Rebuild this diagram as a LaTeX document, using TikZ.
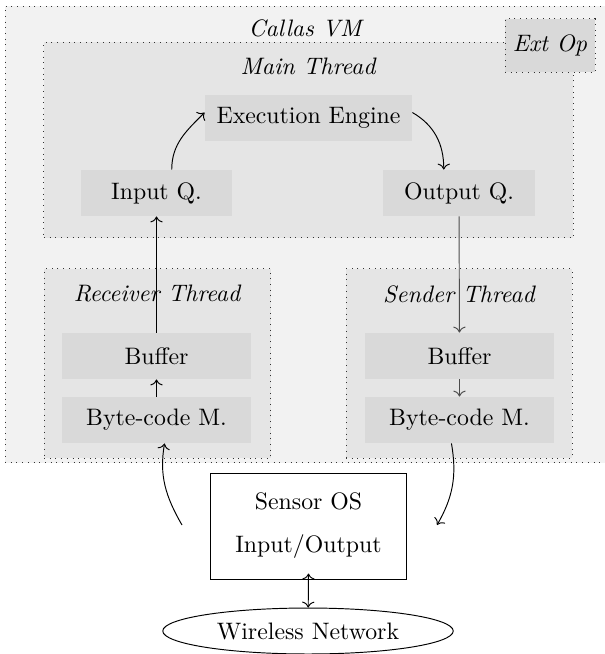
\documentclass[tikz,border=0pt]{standalone}
\usetikzlibrary{positioning,arrows.meta,shapes.geometric}
\definecolor{vmbg}{gray}{0.95}
\definecolor{thbg}{gray}{0.90}
\definecolor{unitbg}{gray}{0.85}

\begin{document}
\begin{tikzpicture}[x=0.42pt, y=-0.42pt,
   area/.style={draw=black!80, dotted, fill=thbg, inner sep=0pt},
   unit/.style={fill=unitbg, inner sep=2pt, minimum height=19.3pt},
   ttl/.style={font=\itshape},
   flow/.style={-{To}}]
  \useasboundingbox (0,0) rectangle (604,654);

  % containers
  \node[area, fill=vmbg, minimum width=252.4pt, minimum height=191.9pt] (vm) at (305.5,234.5) {};
  \node[area, minimum width=222.2pt, minimum height=82.3pt] (main) at (308.5,140) {};
  \node[area, minimum width=95.3pt, minimum height=79.4pt] (recv) at (157.5,363.5) {};
  \node[area, minimum width=94.9pt, minimum height=79.4pt] (send) at (459,363.5) {};
  \node[area, fill=unitbg, minimum width=37.8pt, minimum height=22.3pt] (extop) at (550,45.5) {\itshape Ext Op};

  \node[ttl] (vmlbl) at (305,28) {Callas VM};
  \node[ttl] (mainlbl) at (308,66) {Main Thread};
  \node[ttl] (recvlbl) at (157,294) {Receiver Thread};
  \node[ttl] (sendlbl) at (459,294) {Sender Thread};

  % main thread
  \node[unit, minimum width=86.9pt] (exec) at (308.5,118) {Execution Engine};
  \node[unit, minimum width=63.4pt] (inq) at (156.5,193) {Input Q.};
  \node[unit, minimum width=63.8pt] (outq) at (459,193) {Output Q.};

  % receiver / sender
  \node[unit, minimum width=79.4pt] (bufl) at (156.5,356) {Buffer};
  \node[unit, minimum width=79.4pt] (bcl) at (156.5,420) {Byte-code M.};
  \node[unit, minimum width=79.4pt] (bufr) at (459.5,356) {Buffer};
  \node[unit, minimum width=79.4pt] (bcr) at (459.5,420) {Byte-code M.};

  % os and network
  \node[draw, align=center, minimum width=82.7pt, minimum height=44.5pt] (sos) at (308.5,526) {Sensor OS\\[6pt]Input/Output};
  \node[draw, ellipse, minimum width=122pt, minimum height=19.3pt, inner sep=0pt] (net) at (308,631) {Wireless Network};

  \coordinate (rxin) at (182,525);
  \coordinate (txout) at (437,525);

  \draw[flow] (bufl) -- (inq);
  \draw[flow] (bcl) -- (bufl);
  \draw[flow, draw=black!70] (outq) -- (bufr);
  \draw[flow, draw=black!70] (bufr) -- (bcr);
  \draw[flow] (inq.57) to[out=90, in=-135] (exec.177);
  \draw[flow] (exec.3) to[out=-30, in=90] (outq.123);
  \draw[flow] (rxin) to[out=120, in=-100] (bcl.-71);
  \draw[flow] (bcr.-109) to[out=-80, in=60] (txout);
  \draw[{To}-{To}] ([yshift=2.5pt]sos.south) -- (net);
\end{tikzpicture}
\end{document}
